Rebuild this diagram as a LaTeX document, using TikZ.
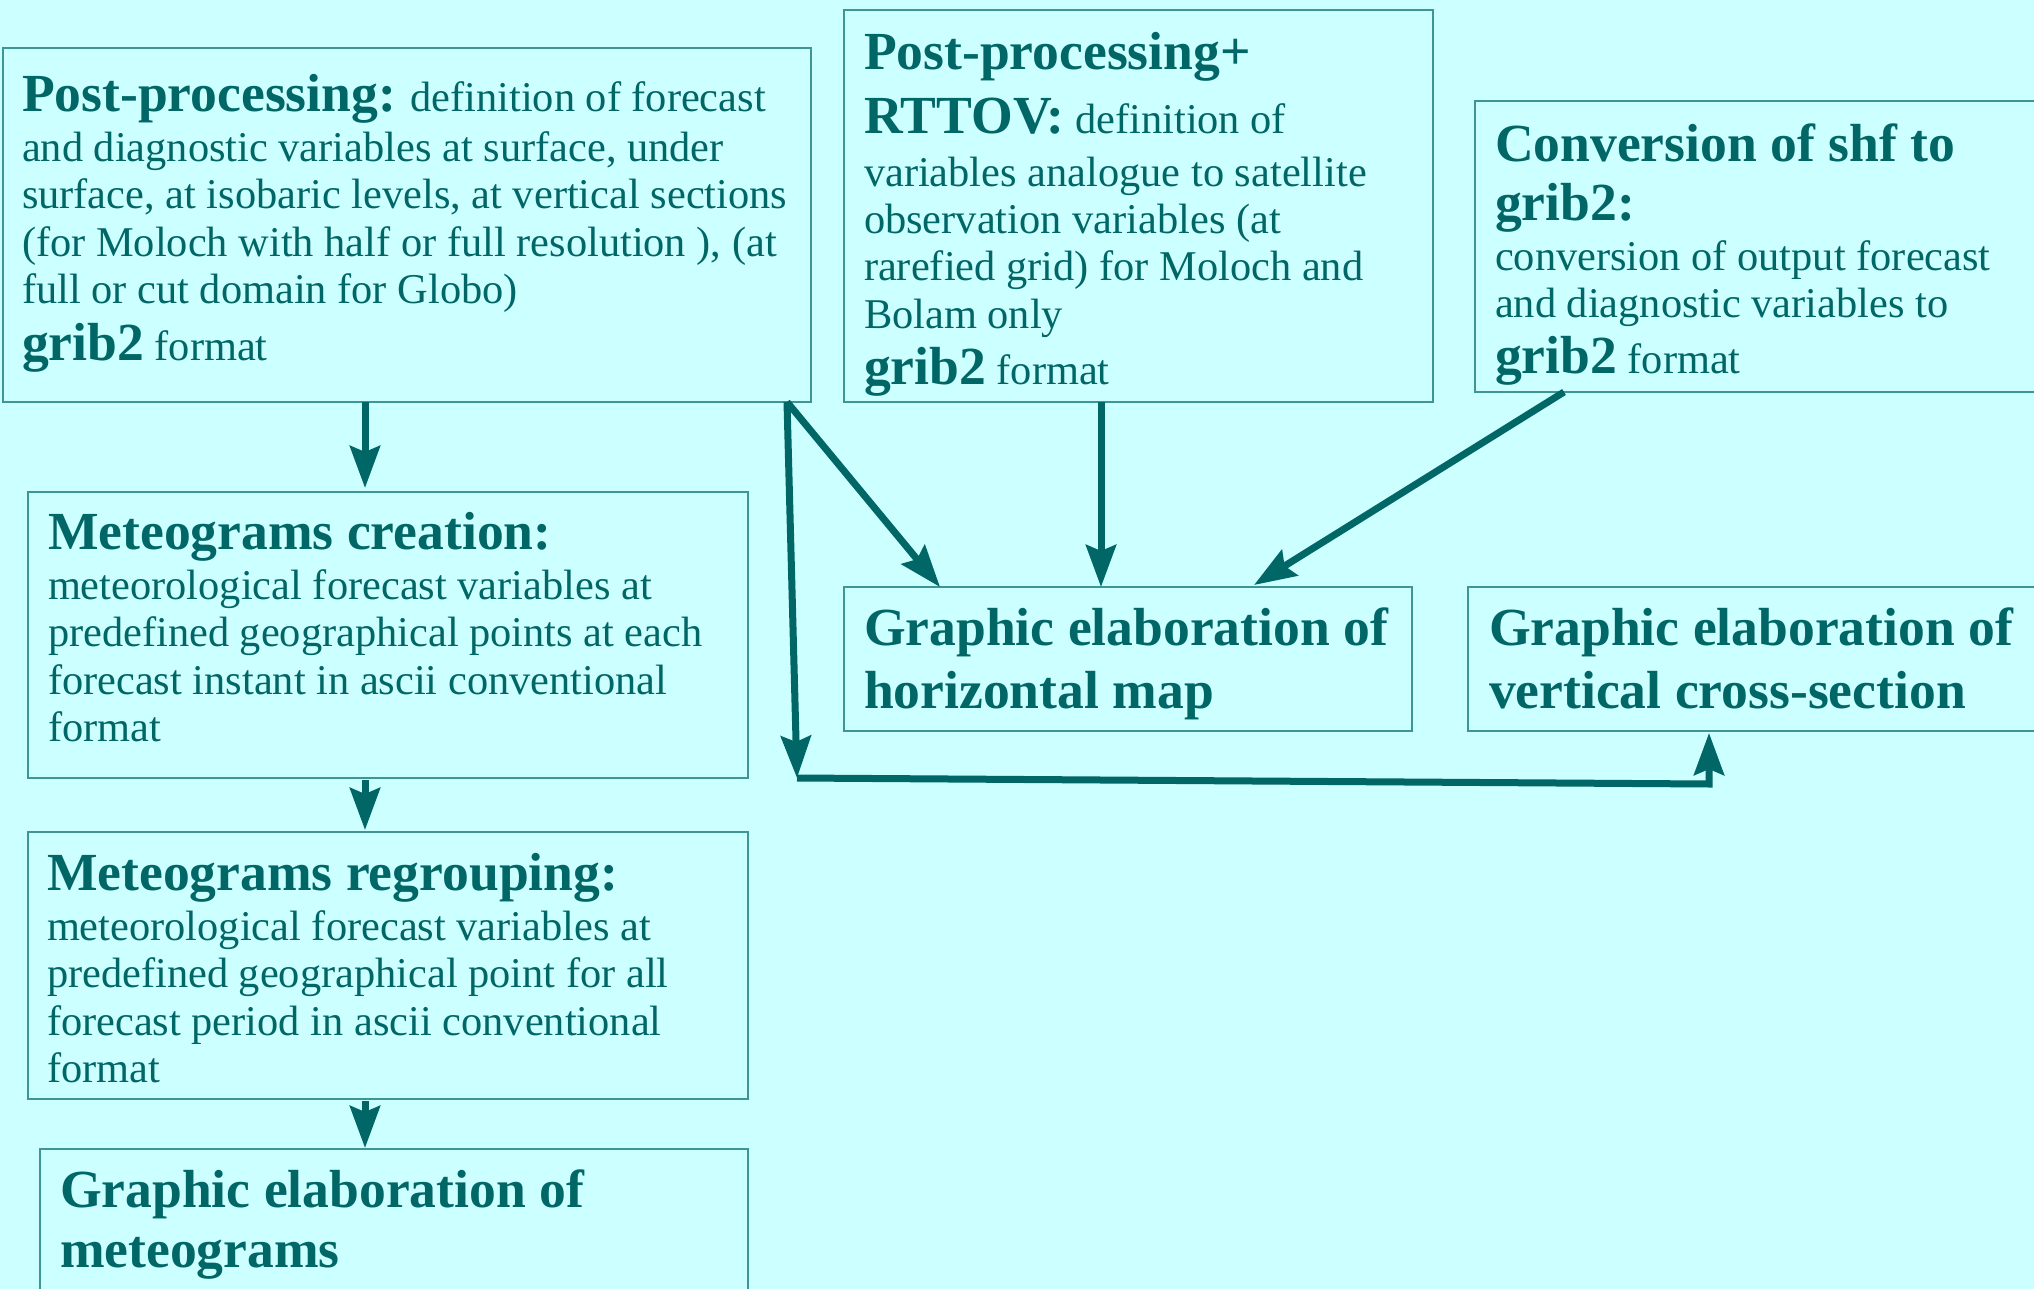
\documentclass[tikz,border=0pt]{standalone}
\usepackage{fontspec}
\setmainfont{Liberation Serif}
\usetikzlibrary{arrows.meta,calc,fit}
\definecolor{bgcol}{HTML}{CCFFFF}
\definecolor{txtcol}{HTML}{006666}
\definecolor{bordcol}{HTML}{3F9494}
\newcommand\bodyfont{\fontsize{21.2pt}{23.75pt}\selectfont}
\newcommand\hd[1]{{\fontsize{26.8pt}{30pt}\selectfont\bfseries #1}}
\newcommand\st{\rule{0pt}{20pt}}
\begin{document}
\begin{tikzpicture}[x=0.5pt,y=-0.5pt,
  box/.style={draw=bordcol, line width=1pt, inner sep=0pt, outer sep=0pt},
  txt/.style={anchor=north west, inner sep=0pt, outer sep=0pt, align=left, text=txtcol, font=\bodyfont},
  arr/.style={draw=txtcol, line width=3.5pt, -{Stealth[length=21pt,width=15pt,inset=3pt]}}]
\fill[bgcol] (0,0) rectangle (2034,1289);
\useasboundingbox (0,0) rectangle (2034,1289);
% boxes
\node (b1) [box, fit={(3,48) (811,402)}] {};
\node (b2) [box, fit={(844,10) (1433,402)}] {};
\node (b3) [box, fit={(1475,101) (2050,392)}] {};
\node (b4) [box, fit={(28,492) (748,778)}] {};
\node (b5) [box, fit={(28,832) (748,1099)}] {};
\node (b6) [box, fit={(40,1149) (748,1300)}] {};
\node (b7) [box, fit={(844,587) (1412,731)}] {};
\node (b8) [box, fit={(1468,587) (2050,731)}] {};
% texts
\node (t1) [txt] at (22,71) {\st\hd{Post-processing:} definition of forecast\\[1.25pt]
and diagnostic variables at surface, under\\
surface, at isobaric levels, at vertical sections\\
(for Moloch with half or full resolution ), (at\\
full or cut domain for Globo)\\[4.5pt]
\hd{grib2} format};
\node (t2) [txt] at (864,30) {\st\hd{Post-processing+}\\[7.75pt]
\hd{RTTOV:} definition of\\[2.75pt]
variables analogue to satellite\\
observation variables (at\\
rarefied grid) for Moloch and\\
Bolam only\\[4.25pt]
\hd{grib2} format};
\node (t3) [txt] at (1495,121) {\st\hd{Conversion of shf to}\\[5.75pt]
\hd{grib2:}\\[1.25pt]
conversion of output forecast\\
and diagnostic variables to\\[4.25pt]
\hd{grib2} format};
\node (t4) [txt] at (48,509) {\st\hd{Meteograms creation:}\\[1.25pt]
meteorological forecast variables at\\
predefined geographical points at each\\
forecast instant in ascii conventional\\
format};
\node (t5) [txt] at (47,850) {\st\hd{Meteograms regrouping:}\\[1.25pt]
meteorological forecast variables at\\
predefined geographical point for all\\
forecast period in ascii conventional\\
format};
\node (t6) [txt] at (60,1167) {\st\hd{Graphic elaboration of}\\[6.25pt]
\hd{meteograms}};
\node (t7) [txt] at (864,605) {\st\hd{Graphic elaboration of}\\[6.25pt]
\hd{horizontal map}};
\node (t8) [txt] at (1489,605) {\st\hd{Graphic elaboration of}\\[6.25pt]
\hd{vertical cross-section}};
% connectors
\coordinate (s) at ($(b1.south east)+(-24,0)$);
\coordinate (c1) at (797,778);
\coordinate (c2) at (1709,784);
\draw[arr] ($(b1.south west)+(362,0)$) -- ($(b4.north west)+(337,-4)$);
\draw[arr] ($(b4.south west)+(337,2)$) -- ($(b5.north west)+(337,-2)$);
\draw[arr] ($(b5.south west)+(337,2)$) -- ($(b6.north west)+(325,-1)$);
\draw[arr] (s) -- ($(b7.north west)+(96,0)$);
\draw[arr] (s) -- (c1);
\draw[arr] (c1) -- (c2) -- ($(c2 |- b8.south)+(0,2)$);
\draw[arr] ($(b2.south west)+(257,0)$) -- ($(b7.north west)+(257,0)$);
\draw[arr] ($(b3.south west)+(89,0)$) -- ($(b7.north west)+(410,-2)$);
\end{tikzpicture}
\end{document}
